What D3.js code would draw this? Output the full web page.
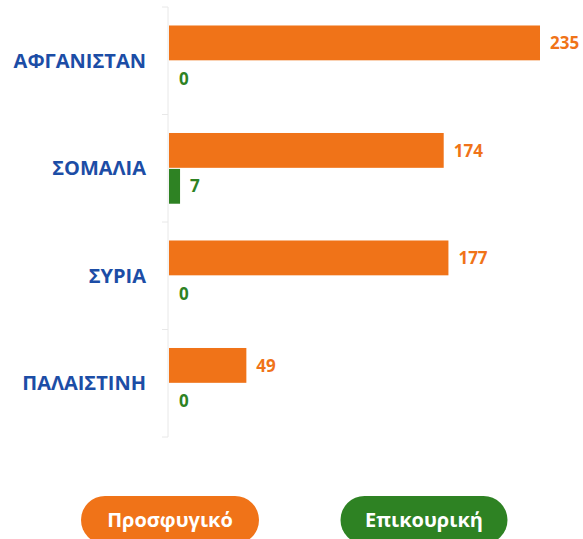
<!DOCTYPE html>
<html>
<head>
<meta charset="utf-8">
<script src="https://cdn.jsdelivr.net/npm/d3@7"></script>
<style>
  html, body { margin: 0; padding: 0; background: #fff; }
  svg { display: block; font-family: "Open Sans", sans-serif; }
</style>
</head>
<body>
<div id="chart"></div>
<script>
// Κατηγορίες και τιμές
const countries = ["ΑΦΓΑΝΙΣΤΑΝ", "ΣΟΜΑΛΙΑ", "ΣΥΡΙΑ", "ΠΑΛΑΙΣΤΙΝΗ"];
const seriesNames = ["Προσφυγικό", "Επικουρική"];
const prosfygiko = [235, 174, 177, 49];
const epikouriki = [0, 7, 0, 0];
const colors = ["#f07318", "#2e8223"];

const width = 583;
const height = 539;
const margin = { top: 7, right: 43, bottom: 102, left: 169 };

const rows = countries.map((c, i) => ({ country: c, values: [prosfygiko[i], epikouriki[i]] }));

const svg = d3.select("#chart")
  .append("svg")
  .attr("width", width)
  .attr("height", height);

const y0 = d3.scaleBand()
  .domain(countries)
  .range([margin.top, height - margin.bottom]);

const bw = y0.bandwidth();
const y1 = d3.scaleBand()
  .domain(seriesNames)
  .range([bw * 0.172, bw * 0.83])
  .paddingInner(0.03);

const x = d3.scaleLinear()
  .domain([0, 235])
  .range([margin.left, width - margin.right]);

// άξονας
svg.append("line")
  .attr("x1", margin.left - 1).attr("x2", margin.left - 1)
  .attr("y1", margin.top).attr("y2", height - margin.bottom)
  .attr("stroke", "#e8e8e8");

const bounds = countries.map(c => y0(c)).concat([height - margin.bottom]);
svg.selectAll(".tick-line")
  .data(bounds)
  .join("line")
  .attr("class", "tick-line")
  .attr("x1", margin.left - 7).attr("x2", margin.left - 1)
  .attr("y1", d => d).attr("y2", d => d)
  .attr("stroke", "#e8e8e8");

// ετικέτες χωρών
svg.selectAll(".cat")
  .data(countries)
  .join("text")
  .attr("class", "cat")
  .attr("x", margin.left - 23)
  .attr("y", d => y0(d) + bw / 2)
  .attr("dy", "0.35em")
  .attr("text-anchor", "end")
  .attr("fill", "#1c4da6")
  .attr("font-weight", "bold")
  .attr("font-size", 20)
  .text(d => d);

// μπάρες
const groups = svg.selectAll(".grp")
  .data(rows)
  .join("g")
  .attr("class", "grp")
  .attr("transform", d => `translate(0,${y0(d.country)})`);

groups.selectAll("rect")
  .data(d => d.values.map((v, i) => ({ key: seriesNames[i], value: v, i })))
  .join("rect")
  .attr("x", x(0))
  .attr("y", d => y1(d.key))
  .attr("width", d => x(d.value) - x(0))
  .attr("height", y1.bandwidth())
  .attr("fill", d => colors[d.i]);

groups.selectAll("text")
  .data(d => d.values.map((v, i) => ({ key: seriesNames[i], value: v, i })))
  .join("text")
  .attr("x", d => x(d.value) + 10)
  .attr("y", d => y1(d.key) + y1.bandwidth() / 2)
  .attr("dy", "0.36em")
  .attr("fill", d => colors[d.i])
  .attr("font-weight", "bold")
  .attr("font-size", 17)
  .text(d => d.value);

// υπόμνημα
const legendX = [170, 424];
const legendW = [178, 167];
const legend = svg.selectAll(".leg")
  .data(seriesNames)
  .join("g")
  .attr("class", "leg")
  .attr("transform", (d, i) => `translate(${legendX[i]},520)`);

legend.append("rect")
  .attr("x", (d, i) => -legendW[i] / 2)
  .attr("y", -24)
  .attr("width", (d, i) => legendW[i])
  .attr("height", 48)
  .attr("rx", 24)
  .attr("fill", (d, i) => colors[i]);

legend.append("text")
  .attr("text-anchor", "middle")
  .attr("dy", "0.36em")
  .attr("fill", "#fff")
  .attr("font-weight", "bold")
  .attr("font-size", 20)
  .text(d => d);
</script>
</body>
</html>
